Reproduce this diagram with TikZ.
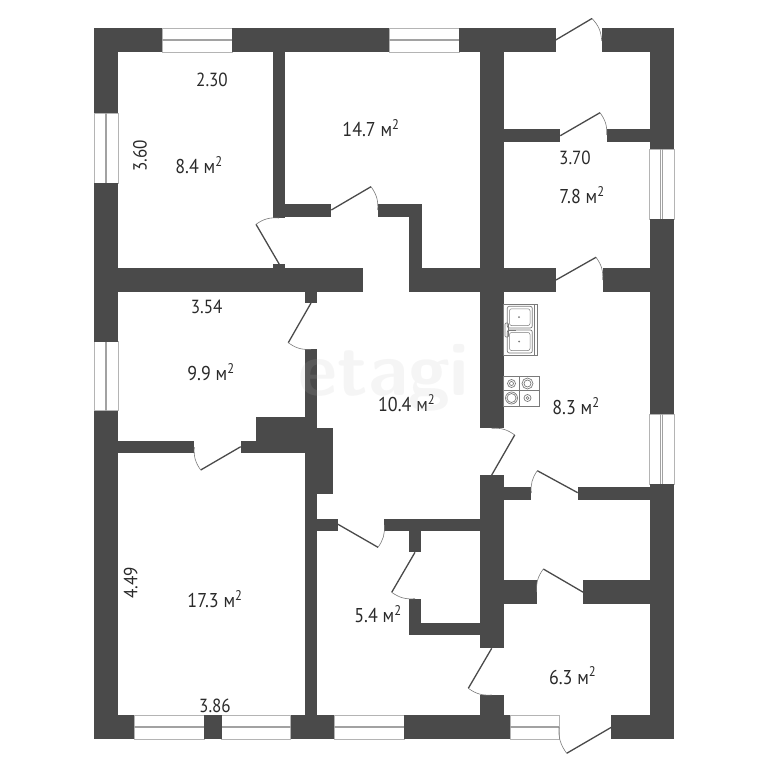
\documentclass[tikz,border=0pt]{standalone}
\usepackage{fontspec}
\setmainfont[FakeStretch=0.9]{PT Sans}
\definecolor{wallgrey}{HTML}{4A4A4A}
\definecolor{framegrey}{HTML}{B4B4B4}
\definecolor{fitgrey}{HTML}{7A7A7A}
\definecolor{textgrey}{HTML}{2A2A2A}
\tikzset{
	wall/.style={fill=wallgrey},
	winframe/.style={draw=framegrey,line width=0.7pt,fill=white},
	winpane/.style={draw=fitgrey!70,line width=0.8pt},
	leaf/.style={draw=wallgrey,line width=1.3pt},
	swing/.style={draw=fitgrey,line width=0.6pt},
	fitting/.style={draw=fitgrey,line width=0.7pt},
	area/.style={text=textgrey,font=\fontsize{20}{20}\selectfont,inner sep=0pt},
	size/.style={text=textgrey,font=\fontsize{19}{19}\selectfont,inner sep=0pt}
}
\begin{document}
\begin{tikzpicture}[x=1pt,y=-1pt]
	\useasboundingbox (0,0) rectangle (768,768);
	% windows, top and bottom
	\foreach \xa/\xb/\ya/\yb in {162.3/232.3/28.3/52.3,389.3/459.3/28.3/52.3,134.3/204/715.3/739,221.7/290.7/715.3/739,334.3/404/715.3/739,510/559/715.3/739}{
		\draw[winframe] (\xa,\ya) rectangle (\xb,\yb);
		\draw[winpane] (\xa,{(\ya+\yb)/2-1.2}) -- (\xb,{(\ya+\yb)/2-1.2});
		\draw[winpane] (\xa,{(\ya+\yb)/2+0.4}) -- (\xb,{(\ya+\yb)/2+0.4});
	}
	% windows, left and right
	\foreach \xa/\xb/\ya/\yb in {94/118.3/113.3/183.3,94/118.3/341.7/410.7,649.7/674.3/149.3/219.3,649.7/674.3/414/484}{
		\draw[winframe] (\xa,\ya) rectangle (\xb,\yb);
		\draw[winpane] ({(\xa+\xb)/2-1.2},\ya) -- ({(\xa+\xb)/2-1.2},\yb);
		\draw[winpane] ({(\xa+\xb)/2+0.4},\ya) -- ({(\xa+\xb)/2+0.4},\yb);
	}
	% walls
	\foreach \xa/\ya/\xb/\yb in {
		94/28.3/162.3/52.3,232.3/28.3/389.3/52.3,459.3/28.3/555.7/52.3,602/28.3/674.3/52.3,
		94/28.3/118.3/113.3,94/183.3/118.3/341.7,94/410.7/118.3/739,
		649.7/28.3/674.3/149.3,649.7/219.3/674.3/414,649.7/484/674.3/739,
		94/715.3/134.3/739,204/715.3/221.7/739,290.7/715.3/334.3/739,404/715.3/510/739,611.3/715.3/674.3/739,
		273/52.3/285.3/218,285.3/204/331.3/216.7,377.7/204/421.7/216.7,409.3/204/421.7/292.3,
		409.3/268.3/556/292.3,602.7/268.3/650/292.3,479.7/52.3/503.7/428.3,
		503.7/129.3/560.3/142,606.7/129.3/650/142,
		118/268.3/362.7/292.3,273/264.3/285.3/268.3,305/292.3/317.3/303,
		305/349.3/317.3/715.3,317.3/428.3/333/494,255.7/416.7/305/440.7,
		118/440.7/194.3/453,240.7/440.7/305/453,317.3/518.7/338/530.7,
		384.3/518.7/480/530.7,409/530.7/421.3/552.3,409/598.7/421.3/634.7,409/622.7/480/634.7,
		479.7/475/503.7/648.3,503.7/487.3/531.3/500,577.7/487.3/650/500,
		503.7/580.3/536.7/604.3,583.3/580.3/650/604.3,479.7/695/503.7/715.3}{
		\fill[wall] (\xa,\ya) rectangle (\xb,\yb);
	}
	% doors: hinge, tip of the leaf, end of the swing
	\foreach \hx/\hy/\tx/\ty/\ex/\ey/\bend in {
		555.7/40/592/18.5/601.7/41/left,
		560.3/135.7/600/112.7/606.7/135/left,
		556/280/596/257.3/602.7/280/left,
		331.3/210/371/186.7/377.7/210/left,
		279.3/264.3/256/224.3/279/218/left,
		311/303/288.3/342.7/311/349.3/right,
		240.7/446.7/200.7/470/194.3/447/left,
		338/524.3/378/547.3/384.3/525/right,
		491.7/475/514.7/435/491.7/428.3/right,
		577.7/492.7/537.3/470.7/531.3/493/right,
		583.3/592.3/543.3/569/536.7/592/right,
		415/552.3/391.7/592.3/415/598.7/right,
		491.7/648.3/468.3/688.3/491.7/695/right,
		611.3/727.3/566.7/753.3/559/727/left}{
		\draw[leaf] (\hx,\hy) -- (\tx,\ty);
		\draw[swing] (\tx,\ty) to[bend \bend=20] (\ex,\ey);
	}
	% sink
	\draw[fitting] (503.7,304) rectangle (537.3,355.3) (534,304) -- (534,355.3);
	\foreach \ya/\yb in {306.3/328,330/353}{
		\draw[fitting,rounded corners=2pt] (507.3,\ya) rectangle (532.3,\yb);
		\draw[fitting,rounded corners=2pt,line width=0.5pt] (509.5,{\ya+2.5}) rectangle (530,{\yb-2.5});
		\fill[fitgrey] (519,{(\ya+\yb)/2}) circle (1);
	}
	\draw[fitting,rounded corners=1pt] (505,323) rectangle (508.5,337);
	\draw[fitting] (508.5,330) -- (516,330);
	% stove
	\draw[fitting] (503.7,376.3) rectangle (539.7,406.3) (519.3,376.3) -- (519.3,406.3) (503.7,390) -- (539.7,390);
	\foreach \cx/\cy/\ra/\rb in {511.5/383.5/4/2,527.5/383.5/5.5/3.5,511.5/398/6/4.5,527.5/398/3.5/1.5}{
		\draw[fitting] (\cx,\cy) circle (\ra) (\cx,\cy) circle (\rb);
	}
	% labels
	\node[area] (liv) at (199,165) {8.4 м\textsuperscript{2}};
	\node[area] (hall) at (371,128) {14.7 м\textsuperscript{2}};
	\node[area] (bath) at (582,195) {7.8 м\textsuperscript{2}};
	\node[area] (bed) at (211,372) {9.9 м\textsuperscript{2}};
	\node[area] (core) at (406.7,403) {10.4 м\textsuperscript{2}};
	\node[area] (kit) at (576,406) {8.3 м\textsuperscript{2}};
	\node[area] (main) at (215,599) {17.3 м\textsuperscript{2}};
	\node[area] (clo) at (378,614) {5.4 м\textsuperscript{2}};
	\node[area] (ent) at (572.7,675.7) {6.3 м\textsuperscript{2}};
	\node[size] (wa) at (212,80) {2.30};
	\node[size,rotate=90] (ha) at (140,156) {3.60};
	\node[size] (wb) at (575,157.7) {3.70};
	\node[size] (wc) at (206.7,306.7) {3.54};
	\node[size,rotate=90] (hb) at (130.7,582.7) {4.49};
	\node[size] (wd) at (215,705.7) {3.86};
	% watermark
	\node[text=black!27,opacity=0.14,font=\fontsize{76}{76}\sffamily\bfseries\selectfont,inner sep=0pt] (mark) at (384,378) {etagi};
\end{tikzpicture}
\end{document}
